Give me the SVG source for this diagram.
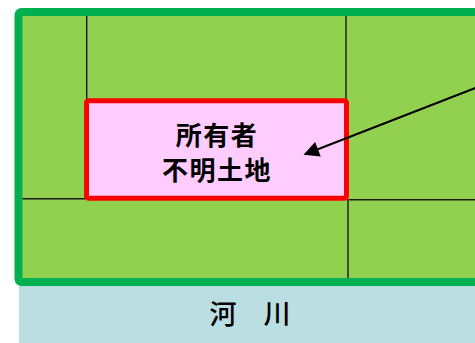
<svg xmlns="http://www.w3.org/2000/svg" width="475" height="343" viewBox="0 0 475 343">
  <defs>
    <style>
      .grid { stroke: #1a1a1a; stroke-width: 1.4; fill: none; }
      .label { font-family: "Noto Sans CJK JP", "Noto Sans CJK SC", sans-serif; fill: #000; text-anchor: middle; }
    </style>
    <marker id="arrow" viewBox="0 0 10 10" refX="9" refY="5" markerWidth="9" markerHeight="7" markerUnits="strokeWidth" orient="auto">
      <path d="M0,0 L10,5 L0,10 z" fill="#000"/>
    </marker>
  </defs>
  <rect width="475" height="343" fill="#ffffff"/>
  <g id="river">
    <rect x="19" y="284" width="460" height="59" fill="#BBDEE2"/>
    <text class="label" x="250" y="324" font-size="27" font-weight="500">河　川</text>
  </g>
  <g id="land">
    <rect x="18.5" y="12" width="470" height="270" rx="3" fill="#92D050" stroke="#00B050" stroke-width="8"/>
  </g>
  <g id="parcels">
    <line class="grid" x1="86.7" y1="16" x2="86.7" y2="100"/>
    <line class="grid" x1="346" y1="16" x2="346" y2="100"/>
    <line class="grid" x1="22.5" y1="198.7" x2="85" y2="198.7"/>
    <line class="grid" x1="349" y1="199.7" x2="475" y2="199.7"/>
    <line class="grid" x1="348" y1="199" x2="348" y2="278"/>
  </g>
  <g id="unknown-owner-land">
    <rect x="86.5" y="100.8" width="260" height="97.5" rx="2" fill="#FFCCFF" stroke="#FF0000" stroke-width="5"/>
    <text class="label" x="217" y="144.5" font-size="26" font-weight="bold" letter-spacing="1.5">所有者</text>
    <text class="label" x="217" y="179.5" font-size="26" font-weight="bold" letter-spacing="1.5">不明土地</text>
  </g>
  <g id="connectors">
    <line x1="476" y1="87.8" x2="305" y2="154.3" stroke="#000" stroke-width="2.2" marker-end="url(#arrow)"/>
  </g>
</svg>
